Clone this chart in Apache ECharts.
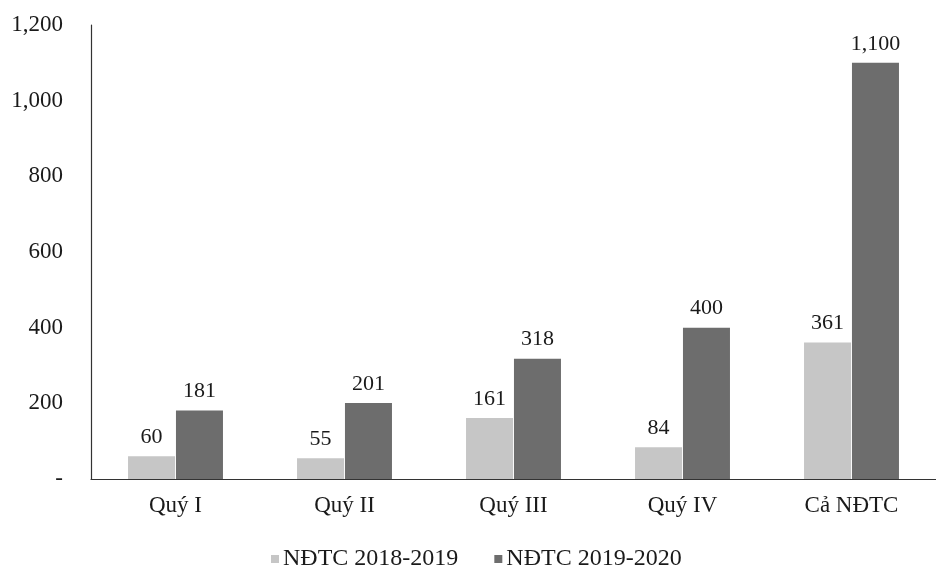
<!DOCTYPE html>
<html>
<head>
<meta charset="utf-8">
<script src="https://cdn.jsdelivr.net/npm/echarts@6/dist/echarts.min.js"></script>
<style>
  html, body { margin: 0; padding: 0; background: #fff; }
  #chart { width: 936px; height: 570px; }
</style>
</head>
<body>
<div id="chart"></div>
<script>
const categories = ['Quý I', 'Quý II', 'Quý III', 'Quý IV', 'Cả NĐTC'];
const seriesNames = ['NĐTC 2018-2019', 'NĐTC 2019-2020'];
const values2018 = [60, 55, 161, 84, 361];
const values2019 = [181, 201, 318, 400, 1100];

const font = '"Liberation Serif", "DejaVu Serif", serif';
const fmt = v => v === 0 ? '-' : v.toLocaleString('en-US');

const myChart = echarts.init(document.getElementById('chart'));
myChart.setOption({
  backgroundColor: '#fff',
  color: ['#c6c6c6', '#6d6d6d'],
  textStyle: { fontFamily: font },
  animation: false,
  grid: { left: 91, right: -6, top: 25, bottom: 91 },
  legend: {
    top: 542,
    left: 266,
    itemWidth: 8,
    itemHeight: 8,
    itemGap: 36,
    icon: 'rect',
    textStyle: { fontFamily: font, fontSize: 24, color: '#1a1a1a', padding: [0, 0, 0, -1] },
    data: seriesNames
  },
  xAxis: {
    type: 'category',
    data: categories,
    axisLine: { lineStyle: { color: '#333', width: 1.2 } },
    axisTick: { show: false },
    axisLabel: { fontFamily: font, fontSize: 23, color: '#1a1a1a', margin: 15 }
  },
  yAxis: {
    type: 'value',
    min: 0,
    max: 1200,
    interval: 200,
    splitLine: { show: false },
    axisLine: { show: true, lineStyle: { color: '#333', width: 1.2 } },
    axisTick: { show: false },
    axisLabel: { fontFamily: font, fontSize: 23, color: '#1a1a1a', margin: 28, formatter: fmt }
  },
  series: [
    { name: seriesNames[0], data: values2018 },
    { name: seriesNames[1], data: values2019 }
  ].map(obj => ({
    ...obj,
    type: 'bar',
    barWidth: 47,
    barGap: '2%',
    label: {
      show: true,
      position: 'top',
      distance: 8,
      fontFamily: font,
      fontSize: 22,
      color: '#1a1a1a',
      formatter: p => fmt(p.value)
    }
  }))
});
</script>
</body>
</html>
